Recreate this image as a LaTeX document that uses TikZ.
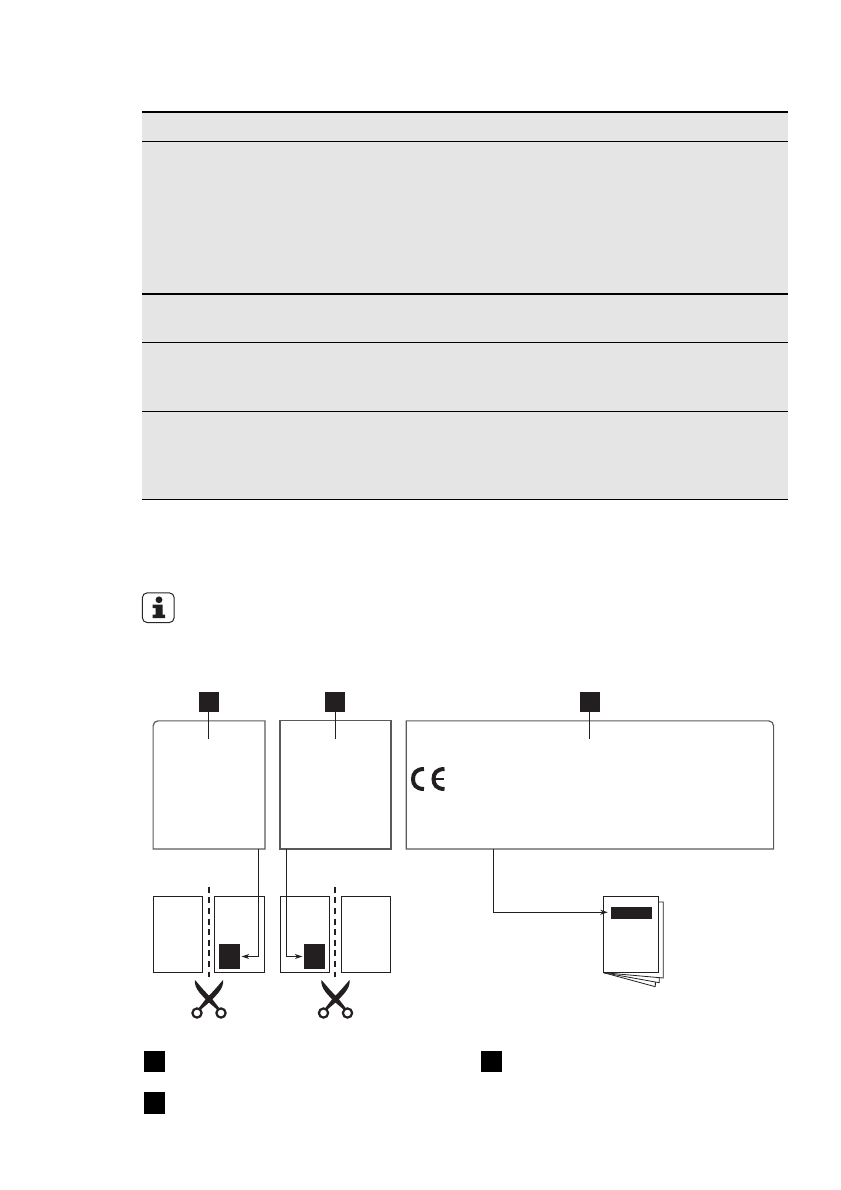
\documentclass[tikz,border=0pt]{standalone}
\usetikzlibrary{arrows.meta}
\newcommand{\scissorshape}[1]{%
  \begin{scope}[shift={(#1,999)}]
    \fill[inkblack] (-14,-19) .. controls (-10,-14.5) and (-5,-8) .. (1.8,-1.8) -- (10.2,9) -- (8.4,10.8) -- (-1.8,2) .. controls (-5,-2) and (-15.5,-10) .. (-14,-19) -- cycle;
    \fill[inkblack] (14,-19) .. controls (10,-14.5) and (5,-8) .. (-1.8,-1.8) -- (-10.2,9) -- (-8.4,10.8) -- (1.8,2) .. controls (5,-2) and (15.5,-10) .. (14,-19) -- cycle;
    \draw[inkblack, line width=2.2pt] (-12,14) circle (4.6);
    \draw[inkblack, line width=2.2pt] (12,14) circle (4.6);
  \end{scope}}
\definecolor{inkblack}{HTML}{231F20}
\definecolor{tablegray}{HTML}{E5E5E5}
\definecolor{boxgray}{HTML}{5A5A5A}
\begin{document}
\begin{tikzpicture}[x=1pt, y=-1pt, >={Stealth[length=7.5pt, width=5pt]}, line cap=butt,
  keysq/.style={fill=inkblack, inner sep=0pt, minimum size=20pt},
  legsq/.style={fill=black, inner sep=0pt, minimum size=21pt},
  sheet/.style={draw=inkblack, line width=1pt, fill=white, inner sep=0pt, minimum width=49.4pt, minimum height=76pt},
  tagsq/.style={fill=inkblack, inner sep=0pt, minimum width=21pt, minimum height=25pt},
  labelbox/.style={inner sep=0pt, minimum height=127.7pt},
  boxline/.style={draw=boxgray, line width=1.2pt},
  leader/.style={draw=inkblack, line width=1pt},
  cutline/.style={inkblack, line width=2.6pt, dash pattern=on 6pt off 4.6pt},
  rule/.style={black, line width=1pt},
  thickrule/.style={black, line width=2pt}]
  \useasboundingbox (0,0) rectangle (840,1190);

  % table
  \fill[tablegray] (142,112) rectangle (787.5,499.5);
  \draw[thickrule] (142,112) -- (787.5,112);
  \draw[rule] (142,141.3) -- (787.5,141.3);
  \draw[thickrule] (142,293.7) -- (787.5,293.7);
  \draw[rule] (142,342.4) -- (787.5,342.4);
  \draw[rule] (142,411.3) -- (787.5,411.3);
  \draw[rule] (142,499.3) -- (787.5,499.3);

  % info icon
  \draw[black!85, line width=1pt, rounded corners=5pt] (142.3,592.8) rectangle (174.2,622.6);
  \fill[inkblack] (159,599.8) circle (3.4);
  \fill[inkblack] (152.5,604.5) -- (162.5,604.5) -- (162.5,614.5) -- (165,614.5) -- (165,618) -- (152.5,618) -- (152.5,614.5) -- (155.5,614.5) -- (155.5,608) -- (152.5,608) -- cycle;

  % rating labels
  \node[labelbox, minimum width=111.4pt] (boxA) at (209,784.9) {};
  \node[labelbox, minimum width=110.6pt] (boxB) at (335.5,784.9) {};
  \node[labelbox, minimum width=367pt] (boxC) at (589.9,784.9) {};
  \draw[boxline] (boxA.north east) -- (boxA.south east) -- (boxA.south west) [rounded corners=5pt] -- (boxA.north west) [sharp corners] -- (boxA.north east) -- cycle;
  \draw[boxline] (boxB.south west) rectangle (boxB.north east);
  \draw[boxline] (boxC.north west) -- (boxC.south west) -- (boxC.south east) [rounded corners=5pt] -- (boxC.north east) [sharp corners] -- (boxC.north west) -- cycle;

  \node[keysq] (sqA) at (209,702) {};
  \node[keysq] (sqB) at (335,702) {};
  \node[keysq] (sqC) at (590,702) {};
  \coordinate (endA) at (208.5,739);
  \coordinate (endB) at (335.3,739);
  \coordinate (endC) at (589.3,739);
  \draw[leader] (sqA.south -| endA) -- (endA);
  \draw[leader] (sqB.south -| endB) -- (endB);
  \draw[leader] (sqC.south -| endC) -- (endC);

  % CE mark
  \draw[inkblack, line width=4pt] (424,769) .. controls (416,769) and (413,773.5) .. (413,779) .. controls (413,784.5) and (416,789) .. (424,789);
  \draw[inkblack, line width=4pt] (444.5,769) .. controls (436.5,769) and (433.5,773.5) .. (433.5,779) .. controls (433.5,784.5) and (436.5,789) .. (444.5,789);
  \draw[inkblack, line width=2.8pt] (433.5,779) -- (443.5,779);

  % sheets
  \node[sheet] (sheetA) at (178,934.3) {};
  \node[sheet, minimum width=50.4pt] (sheetB) at (239.5,934.3) {};
  \node[sheet] (sheetC) at (305,934.3) {};
  \node[sheet] (sheetD) at (366,934.3) {};
  \node[tagsq] (tagA) at (229.5,956.5) {};
  \node[tagsq] (tagB) at (314.5,956.5) {};
  \draw[cutline] (209,886.7) -- (209,977);
  \draw[cutline] (335,886.7) -- (335,977);
  \coordinate (startA) at (258.7,849);
  \coordinate (startB) at (286.3,849);
  \draw[leader, ->] (startA) |- ([xshift=1.5pt]tagA.east);
  \draw[leader, ->] (startB) |- ([xshift=-1.5pt]tagB.west);
  \scissorshape{209}
  \scissorshape{335.5}

  % booklet
  \draw[inkblack, line width=.8pt, fill=white] (603.7,972.7) -- (655.3,986.7) -- (655.5,978);
  \draw[inkblack, line width=.8pt, fill=white] (603.7,972.7) -- (659.3,982.7) -- (659.3,975);
  \draw[inkblack, line width=.8pt, fill=white] (603.7,972.7) -- (663.3,978) -- (663.3,902) -- (658.7,902);
  \node[draw=inkblack, line width=1pt, fill=white, inner sep=0pt, minimum width=55pt, minimum height=76.4pt] (book) at (631.2,934.5) {};
  \node[fill=inkblack, inner sep=0pt, minimum width=41pt, minimum height=12pt] (bar) at (631.5,913) {};
  \coordinate (startC) at (493.3,849);
  \coordinate (endbar) at (607.7,912.3);
  \draw[leader, ->] (startC) |- (endbar);

  % legend
  \node[legsq] (legA) at (154.5,1061.5) {};
  \node[legsq, minimum height=22pt] (legB) at (154.5,1103) {};
  \node[legsq] (legC) at (491,1061.5) {};
\end{tikzpicture}
\end{document}
